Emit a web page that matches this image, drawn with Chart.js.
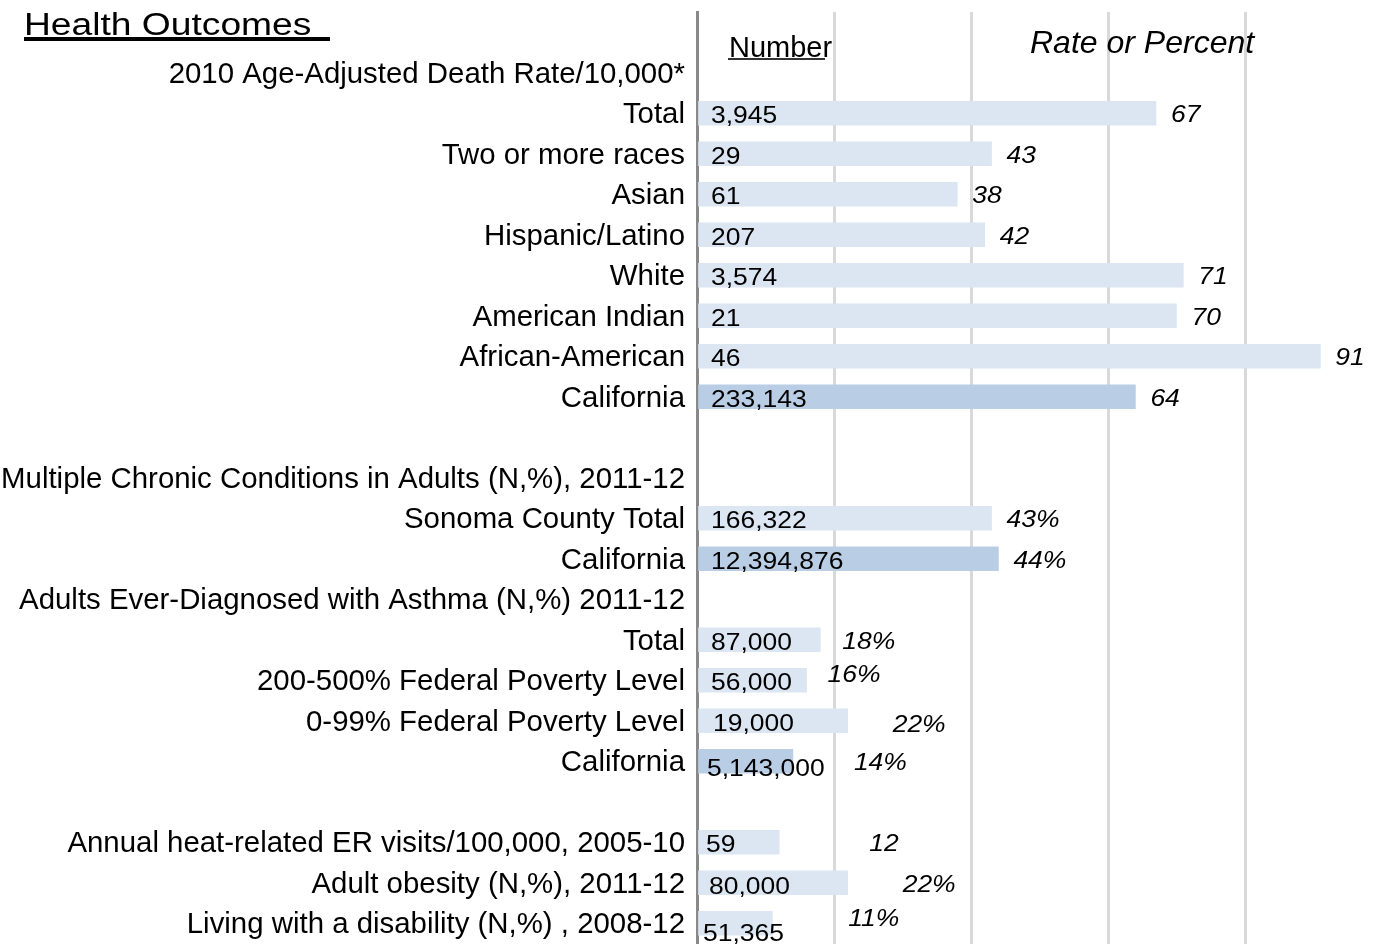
<!DOCTYPE html>
<html>
<head>
<meta charset="utf-8">
<title>Health Outcomes</title>
<script src="https://cdn.jsdelivr.net/npm/chart.js@4/dist/chart.umd.min.js"></script>
<style>
  html, body { margin: 0; padding: 0; background: #fff; }
  #c { display: block; width: 1382px; height: 945px; }
</style>
</head>
<body>
<canvas id="c" width="1382" height="945"></canvas>
<script>
/* ── DATA ── */
var ROWS = [
  "",
  "2010 Age-Adjusted Death Rate/10,000*",
  "Total",
  "Two or more races",
  "Asian",
  "Hispanic/Latino",
  "White",
  "American Indian",
  "African-American",
  "California",
  "",
  "Multiple Chronic Conditions in Adults (N,%), 2011-12",
  "Sonoma County Total",
  "California",
  "Adults Ever-Diagnosed with Asthma (N,%) 2011-12",
  "Total",
  "200-500% Federal Poverty Level",
  "0-99% Federal Poverty Level",
  "California",
  "",
  "Annual heat-related ER visits/100,000, 2005-10",
  "Adult obesity (N,%), 2011-12",
  "Living with a disability (N,%) , 2008-12"
];

var RATES = [null, null, 67, 43, 38, 42, 71, 70, 91, 64,
             null, null, 43, 44, null, 18, 16, 22, 14,
             null, 12, 22, 11];

var UNITS = ["", "", "", "", "", "", "", "", "", "",
             "", "", "%", "%", "", "%", "%", "%", "%",
             "", "", "%", "%"];

var COUNTS = [null, null, "3,945", "29", "61", "207", "3,574", "21", "46", "233,143",
              null, null, "166,322", "12,394,876", null, "87,000", "56,000", "19,000", "5,143,000",
              null, "59", "80,000", "51,365"];

var IS_STATE = [0, 0, 0, 0, 0, 0, 0, 0, 0, 1,
                0, 0, 0, 1, 0, 0, 0, 0, 1,
                0, 0, 0, 0];

var X_MAX = 100;
var X_STEP = 20;

/* ── LAYOUT / STYLE ── */
var C = {
  bar: "#DCE6F2",
  barState: "#B9CDE5",
  grid: "#D9D9D9",
  axis: "#898989",
  text: "#000000"
};
var FONT = '"Liberation Sans", Arial, sans-serif';

/* label nudges (px) where the original text boxes were hand placed */
var RATE_DX = {15: 22, 16: 21, 17: 45, 18: 61, 20: 90, 21: 55, 22: 76};
var RATE_DY = {16: -7, 17: 2, 22: -6};
var COUNT_DX = {17: 2, 18: -4, 20: -5, 21: -2, 22: -8};
var COUNT_DY = {18: 5, 21: 1, 22: 8};

/* stretched text like the source slide */
function txt(ctx, s, x, y, size, italic, sx) {
  ctx.save();
  ctx.font = (italic ? "italic " : "") + size + "px " + FONT;
  ctx.fillStyle = C.text;
  ctx.textAlign = "left";
  ctx.textBaseline = "alphabetic";
  ctx.translate(x, y);
  ctx.scale(sx, 1);
  ctx.fillText(s, 0, 0);
  var w = ctx.measureText(s).width * sx;
  ctx.restore();
  return w;
}

var labelsPlugin = {
  id: "rowLabels",
  afterDatasetsDraw: function(chart) {
    var ctx = chart.ctx;
    var xs = chart.scales.x, ys = chart.scales.y;
    var left = chart.chartArea.left;

    for (var i = 0; i < ROWS.length; i++) {
      var cy = ys.getPixelForValue(i);
      if (COUNTS[i] !== null) {
        txt(ctx, COUNTS[i], left + 14 + (COUNT_DX[i] || 0), cy + 10 + (COUNT_DY[i] || 0), 23, false, 1.15);
      }
      if (RATES[i] !== null) {
        var ex = xs.getPixelForValue(RATES[i]);
        txt(ctx, RATES[i] + UNITS[i], ex + (RATE_DX[i] || 15), cy + 9 + (RATE_DY[i] || 0), 23, true, 1.15);
      }
    }

    /* title */
    txt(ctx, "Health Outcomes", 24, 35, 31, false, 1.2);
    ctx.fillStyle = "#000";
    ctx.fillRect(24, 37, 306, 4);

    /* column headers */
    txt(ctx, "Number", 729, 57, 29, false, 1.0);
    ctx.fillStyle = "#333";
    ctx.fillRect(728, 58, 97, 2);
    txt(ctx, "Rate or Percent", 1030, 53, 32, true, 1.0);
  }
};

new Chart(document.getElementById("c"), {
  type: "bar",
  data: {
    labels: ROWS,
    datasets: [{
      data: RATES,
      backgroundColor: IS_STATE.map(function(s) { return s ? C.barState : C.bar; }),
      borderWidth: 0,
      barThickness: 24
    }]
  },
  options: {
    indexAxis: "y",
    responsive: false,
    animation: false,
    devicePixelRatio: 1,
    layout: { padding: { top: 12, right: 0, bottom: 1.5, left: 0 } },
    plugins: {
      legend: { display: false },
      tooltip: { enabled: false }
    },
    scales: {
      x: {
        min: 0,
        max: X_MAX,
        afterFit: function(scale) {
          scale.height = 0;
          scale.paddingLeft = 0; scale.paddingRight = 0;
        },
        ticks: { display: false, stepSize: X_STEP },
        grid: {
          drawTicks: false,
          lineWidth: 3,
          color: function(c) {
            var v = c.tick && c.tick.value;
            return (v === 0 || v === X_MAX) ? "rgba(0,0,0,0)" : C.grid;
          }
        },
        border: { display: false }
      },
      y: {
        afterFit: function(scale) {
          scale.width = 697;
          scale.paddingTop = 0; scale.paddingBottom = 0;
        },
        ticks: {
          autoSkip: false,
          padding: 12,
          labelOffset: 2,
          color: C.text,
          font: { family: FONT, size: 29.4 }
        },
        grid: { display: false, drawTicks: false },
        border: { display: true, color: C.axis, width: 3 }
      }
    }
  },
  plugins: [labelsPlugin]
});
</script>
</body>
</html>
